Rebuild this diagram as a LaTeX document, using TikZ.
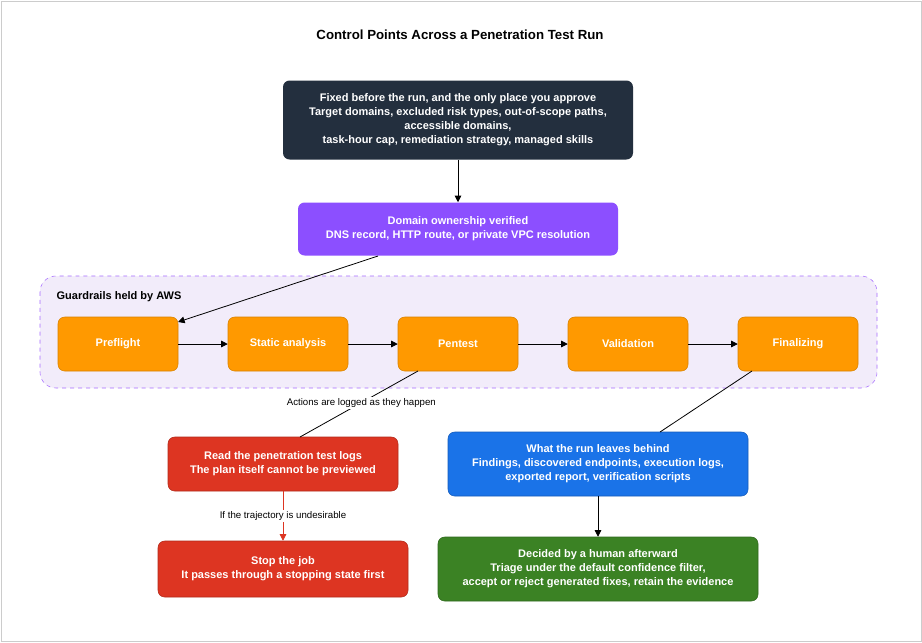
\documentclass[tikz,border=0pt]{standalone}
\usepackage{fontspec}
\setmainfont{Liberation Sans}
\usetikzlibrary{arrows.meta}
\definecolor{awsdark}{HTML}{232F3E}
\definecolor{domainpurple}{HTML}{8C4FFF}
\definecolor{guardfill}{HTML}{F2ECFA}
\definecolor{guardline}{HTML}{A66CFF}
\definecolor{stageorange}{HTML}{FF9900}
\definecolor{stageline}{HTML}{D88200}
\definecolor{logred}{HTML}{DD3522}
\definecolor{leftblue}{HTML}{1A73E8}
\definecolor{humangreen}{HTML}{3B8224}
\tikzset{
    card/.style={rounded corners=5pt, text=white, align=center,
        font=\fontsize{8.3}{10.5}\selectfont\bfseries, inner sep=0pt},
    stage/.style={card, fill=stageorange, draw=stageline, text=white,
        minimum width=120*0.0265cm, minimum height=54*0.0265cm},
    link/.style={-{Triangle[length=5pt,width=5pt]}, line width=0.6pt},
    note/.style={font=\fontsize{7.3}{9}\selectfont, fill=white, inner sep=1pt}
}
\begin{document}
\begin{tikzpicture}[x=0.0265cm, y=-0.0265cm]
    % frame
    \useasboundingbox (0,0) rectangle (922,642);
    \draw[gray!40, fill=white] (1,1) rectangle (921,641);
    \node[font=\fontsize{10}{12}\selectfont\bfseries] (title) at (460,35) {Control Points Across a Penetration Test Run};
    % approval box
    \node[card, fill=awsdark, minimum width=350*0.0265cm, minimum height=79*0.0265cm] (approve) at (458,120)
        {Fixed before the run, and the only place you approve\\Target domains, excluded risk types, out-of-scope paths,\\accessible domains,\\ task-hour cap, remediation strategy, managed skills};
    \node[card, fill=domainpurple, minimum width=320*0.0265cm, minimum height=53*0.0265cm] (domain) at (458,229)
        {Domain ownership verified\\DNS record, HTTP route, or private VPC resolution};
    % guardrail group
    \draw[guardline, dashed, fill=guardfill, rounded corners=12pt] (40,276) rectangle (877,388);
    \node[anchor=west, font=\fontsize{8.3}{10}\selectfont\bfseries] (guard) at (52,297) {Guardrails held by AWS};
    % stages
    \foreach \name/\x/\txt in {pre/118/Preflight, static/288/Static analysis, pent/458/Pentest, valid/628/Validation, final/798/Finalizing} {
        \node[stage] (\name) at (\x,344) {\txt};
    }
    \foreach \a/\b in {pre/static, static/pent, pent/valid, valid/final} {
        \draw[link] (\a) -- (\b);
    }
    % outputs
    \node[card, fill=logred, draw=logred!80!black, minimum width=230*0.0265cm, minimum height=54*0.0265cm] (logs) at (283,464)
        {Read the penetration test logs\\The plan itself cannot be previewed};
    \node[card, fill=logred, draw=logred!80!black, minimum width=250*0.0265cm, minimum height=56*0.0265cm] (stop) at (283,569)
        {Stop the job\\It passes through a stopping state first};
    \node[card, fill=leftblue, draw=leftblue!80!black, minimum width=300*0.0265cm, minimum height=64*0.0265cm] (behind) at (598,464)
        {What the run leaves behind\\Findings, discovered endpoints, execution logs,\\exported report, verification scripts};
    \node[card, fill=humangreen, draw=humangreen!80!black, minimum width=320*0.0265cm, minimum height=64*0.0265cm] (human) at (598,569)
        {Decided by a human afterward\\Triage under the default confidence filter,\\accept or reject generated fixes, retain the evidence};
    % connectors
    \coordinate (domainout) at (378,256);
    \coordinate (preflightin) at (178,322);
    \coordinate (pentout) at (418,371);
    \coordinate (logsin) at (300,437);
    \coordinate (finalout) at (752,371);
    \coordinate (behindin) at (660,432);
    \draw[link] (approve) -- (domain);
    \draw[link] (domainout) -- (preflightin);
    \draw[line width=0.6pt] (pentout) -- (logsin) node[note, pos=0.48] {Actions are logged as they happen};
    \draw[link, logred] (logs) -- (stop) node[note, midway, text=black] {If the trajectory is undesirable};
    \draw[line width=0.6pt] (finalout) -- (behindin);
    \draw[link] (behind) -- (human);
\end{tikzpicture}
\end{document}
